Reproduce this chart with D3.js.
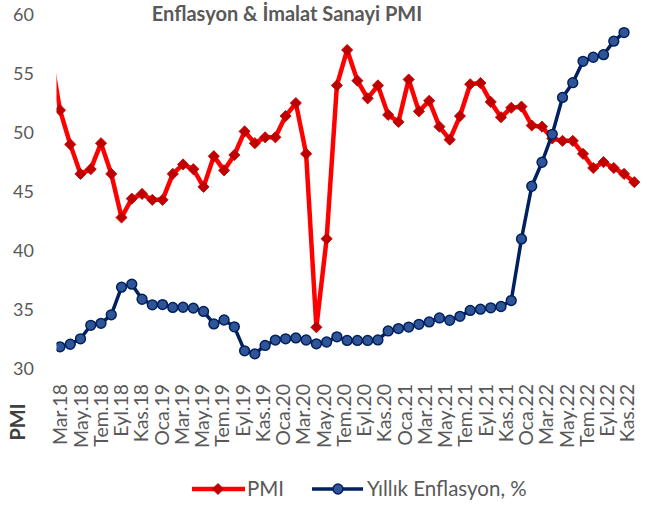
<!DOCTYPE html>
<html>
<head>
<meta charset="utf-8">
<script src="https://cdn.jsdelivr.net/npm/d3@7"></script>
<style>
  html, body { margin: 0; padding: 0; background: #ffffff; }
  svg { display: block; }
  text { font-family: Lato, "Open Sans", sans-serif; }
</style>
</head>
<body>
<div id="chart"></div>
<script>
// Categories (first one lies just outside the plot area and is clipped)
const categories = [
  "Şub.18","Mar.18","Nis.18","May.18","Haz.18","Tem.18","Ağu.18","Eyl.18","Eki.18","Kas.18","Ara.18",
  "Oca.19","Şub.19","Mar.19","Nis.19","May.19","Haz.19","Tem.19","Ağu.19","Eyl.19","Eki.19","Kas.19","Ara.19",
  "Oca.20","Şub.20","Mar.20","Nis.20","May.20","Haz.20","Tem.20","Ağu.20","Eyl.20","Eki.20","Kas.20","Ara.20",
  "Oca.21","Şub.21","Mar.21","Nis.21","May.21","Haz.21","Tem.21","Ağu.21","Eyl.21","Eki.21","Kas.21","Ara.21",
  "Oca.22","Şub.22","Mar.22","Nis.22","May.22","Haz.22","Tem.22","Ağu.22","Eyl.22","Eki.22","Kas.22"
];

// Every second category is labelled
const tickLabels = [
  "Mar.18","May.18","Tem.18","Eyl.18","Kas.18","Oca.19","Mar.19","May.19","Tem.19","Eyl.19","Kas.19",
  "Oca.20","Mar.20","May.20","Tem.20","Eyl.20","Kas.20","Oca.21","Mar.21","May.21","Tem.21","Eyl.21",
  "Kas.21","Oca.22","Mar.22","May.22","Tem.22","Eyl.22","Kas.22"
];

// Manufacturing PMI (left axis)
const pmi = [
  57.0, 51.8, 48.9, 46.4, 46.8, 49.0, 46.4, 42.7, 44.3, 44.7, 44.2,
  44.2, 46.4, 47.2, 46.8, 45.3, 47.9, 46.7, 48.0, 50.0, 49.0, 49.5, 49.5,
  51.3, 52.4, 48.1, 33.4, 40.9, 53.9, 56.9, 54.3, 52.8, 53.9, 51.4, 50.8,
  54.4, 51.7, 52.6, 50.4, 49.3, 51.3, 54.0, 54.1, 52.5, 51.2, 52.0, 52.1,
  50.5, 50.4, 49.4, 49.2, 49.2, 48.1, 46.9, 47.4, 46.9, 46.4, 45.7
];

// Annual CPI inflation, % (hidden secondary axis)
const inflation = [
  null, 10.23, 10.85, 12.15, 15.39, 15.85, 17.90, 24.52, 25.24, 21.62, 20.30,
  20.35, 19.67, 19.71, 19.50, 18.71, 15.72, 16.65, 15.01, 9.26, 8.55, 10.56, 11.84,
  12.15, 12.37, 11.86, 10.94, 11.39, 12.62, 11.76, 11.77, 11.75, 11.89, 14.03, 14.60,
  14.97, 15.61, 16.19, 17.14, 16.59, 17.53, 18.95, 19.25, 19.58, 19.89, 21.31, 36.08,
  48.69, 54.44, 61.14, 69.97, 73.50, 78.62, 79.60, 80.21, 83.45, 85.51, null
];

const yTicks = [30, 35, 40, 45, 50, 55, 60];

const W = 645, H = 508;
const svg = d3.select("#chart").append("svg").attr("width", W).attr("height", H);

const plot = { left: 55, right: 640, top: 13.4, bottom: 367.4 };

const x = d3.scalePoint().domain(categories).range([49.74, 634.3]);
const xLab = d3.scalePoint().domain(tickLabels).range([60, 627]);
const y = d3.scaleLinear().domain([30, 60]).range([plot.bottom, plot.top]);
const y2 = d3.scaleLinear().domain([5.3, 90.1]).range([plot.bottom, plot.top]);

svg.append("defs").append("clipPath").attr("id", "clip")
  .append("rect").attr("x", plot.left + 1.5).attr("y", 0)
  .attr("width", plot.right - plot.left).attr("height", 400);

// Title
svg.append("text")
  .attr("x", 287).attr("y", 21)
  .attr("text-anchor", "middle")
  .attr("fill", "#595959")
  .attr("font-weight", "bold")
  .attr("font-size", 20)
  .text("Enflasyon & İmalat Sanayi PMI");

// Y axis (labels only)
const yAxis = d3.axisLeft(y).tickValues(yTicks).tickSize(0).tickPadding(0);
const gy = svg.append("g").attr("transform", "translate(34,1.5)").call(yAxis);
gy.select(".domain").remove();
gy.selectAll("text").attr("fill", "#595959").attr("font-size", 18)
  .attr("font-family", "Lato, 'Open Sans', sans-serif");

// X axis (labels only, rotated)
const xAxis = d3.axisBottom(xLab).tickSize(0).tickPadding(0);
const gx = svg.append("g").attr("transform", "translate(0,384)").call(xAxis);
gx.select(".domain").remove();
gx.selectAll("text")
  .attr("fill", "#595959").attr("font-size", 19.5)
  .attr("font-family", "Lato, 'Open Sans', sans-serif")
  .attr("transform", "rotate(-90)")
  .attr("text-anchor", "end")
  .attr("dy", "0.35em")
  .attr("x", 0).attr("y", 0);

// Axis title
svg.append("text")
  .attr("transform", "translate(25,422) rotate(-90)")
  .attr("text-anchor", "middle")
  .attr("fill", "#404040")
  .attr("font-weight", "bold")
  .attr("font-size", 20)
  .text("PMI");

const g = svg.append("g").attr("clip-path", "url(#clip)");

// PMI line
const pmiData = categories.map((c, i) => ({ c, v: pmi[i] }));
g.append("path")
  .datum(pmiData)
  .attr("fill", "none")
  .attr("stroke", "#FF0000")
  .attr("stroke-width", 4.5)
  .attr("stroke-linejoin", "round")
  .attr("d", d3.line().x(d => x(d.c)).y(d => y(d.v)));

const diamond = d3.symbol().type(d3.symbolSquare).size(62);
g.selectAll(".pmi-pt")
  .data(pmiData.slice(1))
  .join("path")
  .attr("class", "pmi-pt")
  .attr("d", diamond)
  .attr("transform", d => `translate(${x(d.c)},${y(d.v)}) rotate(45)`)
  .attr("fill", "#C00000")
  .attr("stroke", "#C00000")
  .attr("stroke-width", 0.8);

// Inflation line
const infData = categories.map((c, i) => ({ c, v: inflation[i] })).filter(d => d.v !== null);
g.append("path")
  .datum(infData)
  .attr("fill", "none")
  .attr("stroke", "#002060")
  .attr("stroke-width", 3.5)
  .attr("stroke-linejoin", "round")
  .attr("d", d3.line().x(d => x(d.c)).y(d => y2(d.v)));

g.selectAll(".inf-pt")
  .data(infData)
  .join("circle")
  .attr("class", "inf-pt")
  .attr("cx", d => x(d.c))
  .attr("cy", d => y2(d.v))
  .attr("r", 4.9)
  .attr("fill", "#2F5597")
  .attr("stroke", "#002060")
  .attr("stroke-width", 1.5);

// Legend
const leg = svg.append("g");
leg.append("line").attr("x1", 192).attr("x2", 245).attr("y1", 489).attr("y2", 489)
  .attr("stroke", "#FF0000").attr("stroke-width", 4.5);
leg.append("path").attr("d", diamond)
  .attr("transform", "translate(218,489) rotate(45)")
  .attr("fill", "#C00000").attr("stroke", "#C00000").attr("stroke-width", 0.8);
leg.append("text").attr("x", 247).attr("y", 496)
  .attr("fill", "#595959").attr("font-size", 20.5).text("PMI");

leg.append("line").attr("x1", 312).attr("x2", 363).attr("y1", 489).attr("y2", 489)
  .attr("stroke", "#002060").attr("stroke-width", 3.5);
leg.append("circle").attr("cx", 338).attr("cy", 489).attr("r", 4.9)
  .attr("fill", "#2F5597").attr("stroke", "#002060").attr("stroke-width", 1.5);
leg.append("text").attr("x", 367).attr("y", 496)
  .attr("fill", "#595959").attr("font-size", 20.5).text("Yıllık Enflasyon, %");
</script>
</body>
</html>
